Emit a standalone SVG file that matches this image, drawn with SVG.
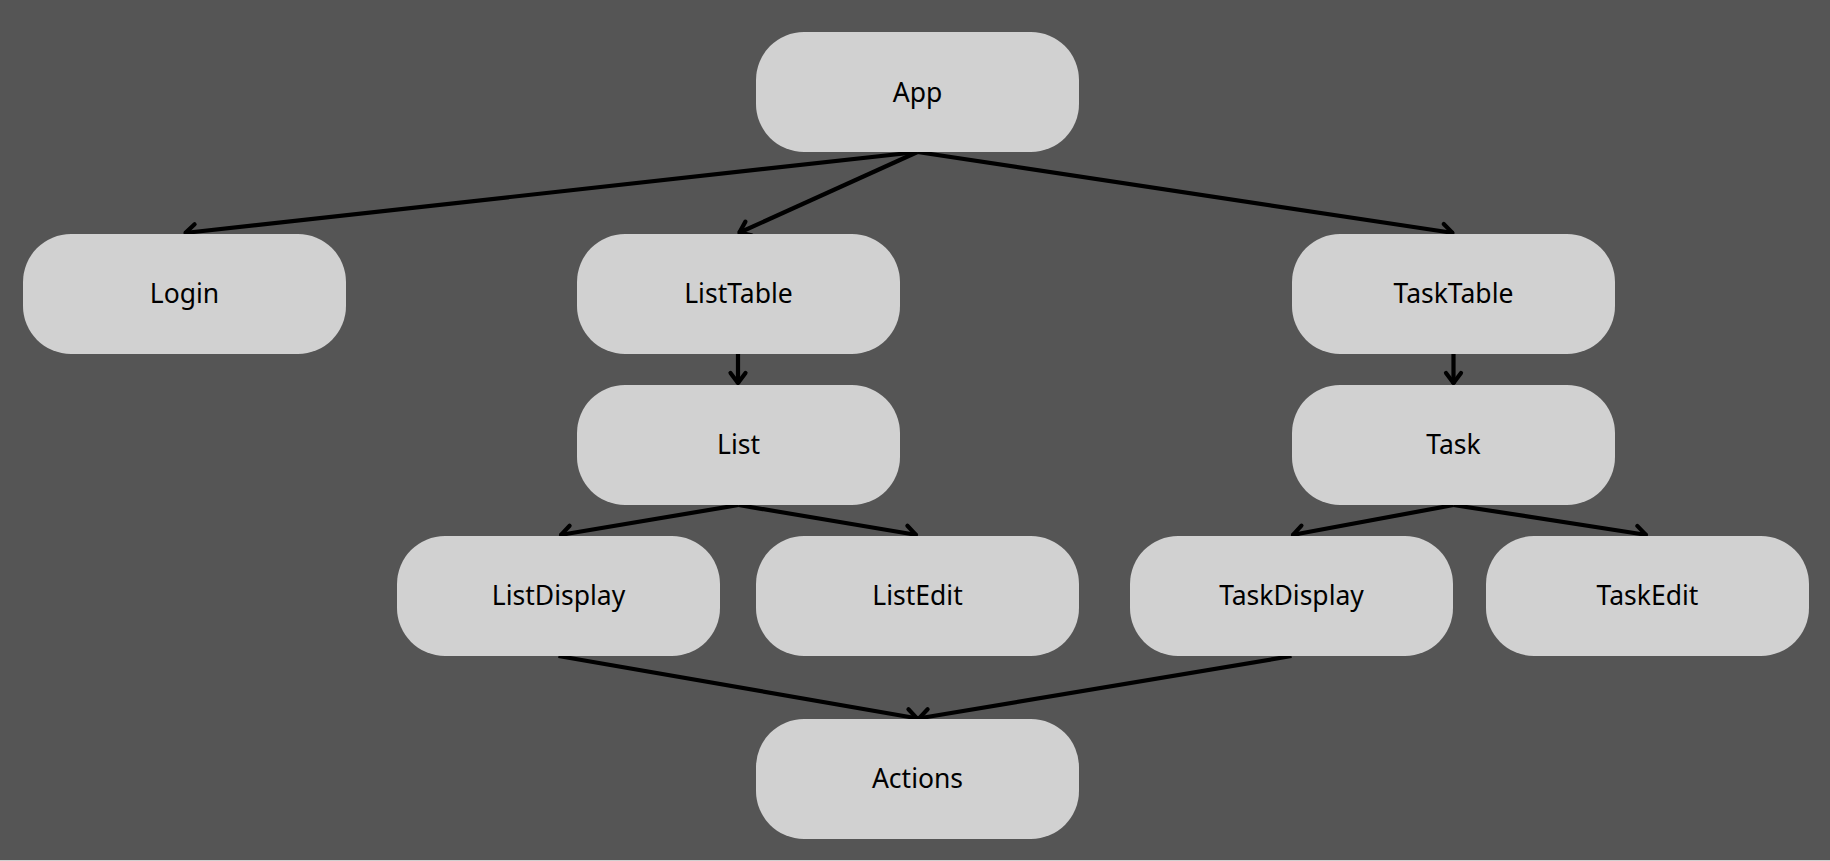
<svg xmlns="http://www.w3.org/2000/svg" width="1830" height="861" viewBox="0 0 1830 861">
  <style>
    .node rect { fill: #d1d1d1; }
    .node text { font-family: "Noto Sans", "Open Sans", "DejaVu Sans", sans-serif; font-size: 26.5px; fill: #000; text-anchor: middle; }
    .edge { stroke: #000; stroke-width: 4.2; fill: none; marker-end: url(#arrow); }
  </style>
  <defs>
    <marker id="arrow" markerUnits="userSpaceOnUse" markerWidth="30" markerHeight="30" viewBox="-15 -15 30 30" refX="0" refY="0" orient="auto">
      <path d="M-11,-7.5 L-1,0 L-11,7.5" fill="none" stroke="#000" stroke-width="4.2" stroke-linecap="round" stroke-linejoin="round"/>
    </marker>
  </defs>
  <rect x="0" y="0" width="1830" height="861" fill="#555555"/>
  <rect x="0" y="860" width="1830" height="1" fill="#cfcfcf"/>

  <g id="connectors">
    <line class="edge" x1="917.5" y1="152" x2="184.5" y2="233"/>
    <line class="edge" x1="917.5" y1="152" x2="738.5" y2="233"/>
    <line class="edge" x1="917.5" y1="152" x2="1453.5" y2="233"/>
    <line class="edge" x1="738" y1="354" x2="738" y2="384"/>
    <line class="edge" x1="1453.5" y1="354" x2="1453.5" y2="384"/>
    <line class="edge" x1="738.5" y1="505" x2="560" y2="535"/>
    <line class="edge" x1="738.5" y1="505" x2="917" y2="535"/>
    <line class="edge" x1="1453.5" y1="505" x2="1292" y2="535"/>
    <line class="edge" x1="1453.5" y1="505" x2="1647" y2="535"/>
    <line class="edge" x1="558.5" y1="656" x2="918" y2="718.5"/>
    <line class="edge" x1="1291.5" y1="656" x2="918" y2="718.5"/>
  </g>

  <g id="node-app" class="node">
    <rect x="756" y="32" width="323" height="120" rx="48" ry="48"/>
    <text x="917.5" y="101.5">App</text>
  </g>
  <g id="node-login" class="node">
    <rect x="23" y="234" width="323" height="120" rx="48" ry="48"/>
    <text x="184.5" y="303">Login</text>
  </g>
  <g id="node-listtable" class="node">
    <rect x="577" y="234" width="323" height="120" rx="48" ry="48"/>
    <text x="738.5" y="303">ListTable</text>
  </g>
  <g id="node-tasktable" class="node">
    <rect x="1292" y="234" width="323" height="120" rx="48" ry="48"/>
    <text x="1453.5" y="303">TaskTable</text>
  </g>
  <g id="node-list" class="node">
    <rect x="577" y="385" width="323" height="120" rx="48" ry="48"/>
    <text x="738.5" y="454">List</text>
  </g>
  <g id="node-task" class="node">
    <rect x="1292" y="385" width="323" height="120" rx="48" ry="48"/>
    <text x="1453.5" y="454">Task</text>
  </g>
  <g id="node-listdisplay" class="node">
    <rect x="397" y="536" width="323" height="120" rx="48" ry="48"/>
    <text x="558.5" y="605">ListDisplay</text>
  </g>
  <g id="node-listedit" class="node">
    <rect x="756" y="536" width="323" height="120" rx="48" ry="48"/>
    <text x="917.5" y="605">ListEdit</text>
  </g>
  <g id="node-taskdisplay" class="node">
    <rect x="1130" y="536" width="323" height="120" rx="48" ry="48"/>
    <text x="1291.5" y="605">TaskDisplay</text>
  </g>
  <g id="node-taskedit" class="node">
    <rect x="1486" y="536" width="323" height="120" rx="48" ry="48"/>
    <text x="1647.5" y="605">TaskEdit</text>
  </g>
  <g id="node-actions" class="node">
    <rect x="756" y="719" width="323" height="120" rx="48" ry="48"/>
    <text x="917.5" y="788">Actions</text>
  </g>
</svg>
